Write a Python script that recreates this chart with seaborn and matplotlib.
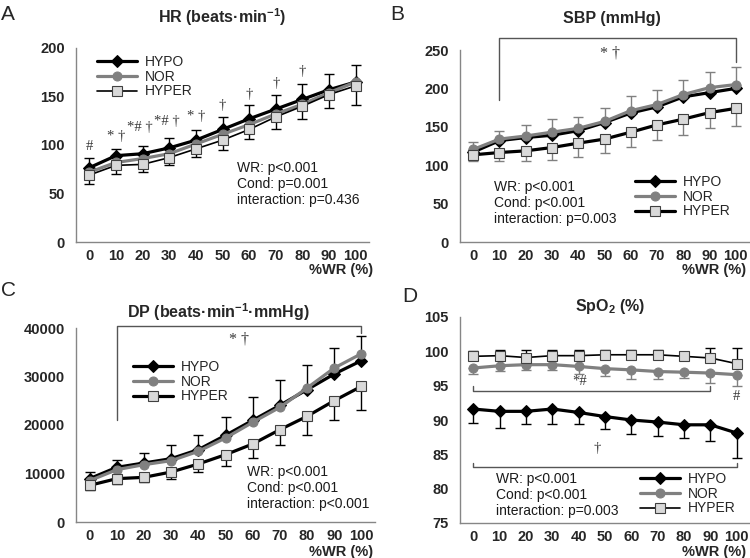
import matplotlib
matplotlib.use("Agg")
import matplotlib.pyplot as plt
import numpy as np
import seaborn as sns

# x categories (%WR)
wr_labels = ["0", "10", "20", "30", "40", "50", "60", "70", "80", "90", "100"]
series_names = ["HYPO", "NOR", "HYPER"]

# A: HR
hr_hypo = [76.6, 89, 91, 97, 105, 116, 127, 137, 147, 157, 165]
hr_nor = [72, 82, 86, 91, 101, 111, 121, 132, 142, 154, 165]
hr_hyper = [69, 79, 80, 87, 96, 105, 116, 129, 140, 152, 161]
hr_hypo_sd = [10, 7, 8, 10, 10, 13, 14, 15, 16, 16, 17]
hr_hyper_sd = [9, 9, 8, 8, 8, 10, 10, 13, 13, 14, 20]

# B: SBP
sbp_hypo = [117, 132, 136, 139, 145, 155.5, 168, 176, 189, 194.5, 200]
sbp_nor = [120.5, 134, 138, 143, 148, 157, 171, 179, 192, 201, 205]
sbp_hyper = [113.5, 116.5, 118.7, 123, 128.7, 134, 143, 152.5, 160, 168.5, 174]
sbp_nor_sd = [9.5, 11, 14.5, 17, 15, 18, 19.6, 19, 19, 20, 22.5]
sbp_hyper_sd = [8.5, 11.5, 13, 16, 17.5, 18, 19, 19.5, 20.5, 19.5, 23]

# C: DP
dp_hypo = [8935, 11270, 12165, 13060, 14914, 17870, 20963, 24056, 27286, 30516, 33265]
dp_nor = [8522, 10790, 11822, 12646, 14570, 17320, 20550, 23643, 27630, 31750, 34700]
dp_hyper = [7560, 8935, 9210, 10310, 11960, 13880, 16083, 19040, 21790, 25018, 27970]
dp_hypo_sd = [1300, 1580, 2065, 2750, 2960, 3780, 4740, 5150, 5150, 5360, 5155]
dp_hyper_sd = [890, 1035, 960, 1375, 1650, 2265, 2880, 3090, 3920, 3920, 4810]

# D: SpO2
spo2_hypo = [91.6, 91.26, 91.26, 91.6, 91.1, 90.5, 90.0, 89.7, 89.3, 89.3, 88.1]
spo2_nor = [97.57, 97.9, 98.06, 98.06, 97.8, 97.48, 97.3, 97.06, 96.96, 96.84, 96.6]
spo2_hyper = [99.27, 99.37, 99.1, 99.37, 99.37, 99.5, 99.5, 99.5, 99.27, 99.03, 98.2]
spo2_hypo_sd = [2.0, 2.4, 1.9, 2.2, 1.7, 1.8, 2.0, 2.0, 1.9, 2.3, 3.6]
spo2_nor_sd = [0.9, 0.7, 0.8, 0.8, 1.1, 1.1, 1.4, 1.1, 0.8, 1.4, 1.7]
spo2_hyper_sd = [0.8, 0.8, 1.1, 0.8, 0.8, 0.7, 0.7, 0.7, 0.7, 1.5, 2.3]

sns.set_style("white")
plt.rcParams["font.family"] = ["Liberation Sans", "DejaVu Sans"]
plt.rcParams["mathtext.fontset"] = "custom"
plt.rcParams["mathtext.rm"] = "Liberation Sans"
plt.rcParams["mathtext.bf"] = "Liberation Sans:bold"

W, H = 750, 558
fig = plt.figure(figsize=(7.5, 5.58), dpi=100)

AXIS_GRAY = "#868686"
SYM_COLOR = "#3a3a3a"
SERIF = ["Liberation Serif", "DejaVu Serif"]


def fpos(x, y):
    return x / W, 1 - y / H


def make_axes(left, right, top, bottom):
    ax = fig.add_axes([left / W, 1 - bottom / H, (right - left) / W, (bottom - top) / H])
    return ax


def style_axes(ax, ylim, ystep, xpad=5):
    ax.set_xlim(-0.5, 10.5)
    ax.set_ylim(*ylim)
    ax.set_yticks(np.arange(ylim[0], ylim[1] + ystep / 2, ystep))
    ax.set_xticks(range(len(wr_labels)))
    ax.set_xticklabels(wr_labels)
    ax.set_xticks(np.arange(0.5, 10.5, 1), minor=True)
    for s in ["top", "right"]:
        ax.spines[s].set_visible(False)
    for s in ["left", "bottom"]:
        ax.spines[s].set_color(AXIS_GRAY)
        ax.spines[s].set_linewidth(1)
    ax.tick_params(axis="x", which="major", length=0, pad=xpad, labelsize=10.5)
    ax.tick_params(axis="x", which="minor", direction="in", length=4, color=AXIS_GRAY, width=1)
    ax.tick_params(axis="y", which="major", direction="in", length=4, color=AXIS_GRAY,
                   width=1, pad=8, labelsize=10.5)
    for lab in ax.get_xticklabels() + ax.get_yticklabels():
        lab.set_fontweight("bold")
    ax.set_xlabel("")
    ax.set_ylabel("")


def draw_series(ax, hypo, nor, hyper, hyper_lw):
    x = np.arange(len(wr_labels))
    sns.lineplot(x=x, y=hypo, ax=ax, color="black", lw=2.3, marker="D", markersize=6,
                 markeredgecolor="black", label="HYPO", zorder=4)
    sns.lineplot(x=x, y=nor, ax=ax, color="#808080", lw=2.3, marker="o", markersize=6.5,
                 markeredgecolor="#808080", label="NOR", zorder=4)
    sns.lineplot(x=x, y=hyper, ax=ax, color="black", lw=hyper_lw, marker="s", markersize=6.5,
                 markerfacecolor="#d9d9d9", markeredgecolor="#404040", markeredgewidth=0.8,
                 label="HYPER", zorder=4)


def err(ax, vals, sd, up, color):
    x = np.arange(len(wr_labels))
    sd = np.array(sd)
    zero = np.zeros_like(sd)
    yerr = [zero, sd] if up else [sd, zero]
    ax.errorbar(x, vals, yerr=yerr, fmt="none", ecolor=color, elinewidth=1, capsize=3.5,
                capthick=1, zorder=2)


def legend(ax, x, y):
    h, l = ax.get_legend_handles_labels()
    ax.legend(h, l, loc="upper left", bbox_to_anchor=fpos(x, y), bbox_transform=fig.transFigure,
              frameon=False, handlelength=2.9, handletextpad=0.55, labelspacing=0.05,
              borderpad=0, borderaxespad=0, fontsize=10)


def stats(x, y, txt):
    fig.text(*fpos(x, y), txt, ha="left", va="top", fontsize=10, linespacing=1.2, color="#1a1a1a")


def sym(ax, x, y, txt, size=10.5):
    ax.text(x, y, txt, ha="center", va="center", fontsize=size, family=SERIF, color=SYM_COLOR)


def bracket(ax, xs, ys):
    ax.plot(xs, ys, color="#555555", lw=1, clip_on=False, zorder=1)


def corner_text(ax, x, y):
    fig.text(*fpos(x, y), "%WR (%)", ha="right", va="center", fontsize=10.5, fontweight="bold")


# ---- A: HR
axA = make_axes(76, 369, 48, 242)
err(axA, hr_hypo, hr_hypo_sd, True, "black")
err(axA, hr_hyper, hr_hyper_sd, False, "black")
draw_series(axA, hr_hypo, hr_nor, hr_hyper, 1.2)
style_axes(axA, (0, 200), 50)
legend(axA, 97, 55)
stats(237, 161, "WR: p<0.001\nCond: p=0.001\ninteraction: p=0.436")
for xi, yi, t in [(0, 98, "#"), (1, 108.5, "* †"), (1.9, 118, "*# †"), (2.9, 124, "*# †"),
                  (4, 129, "* †"), (5, 141, "†"), (6, 152, "†"), (7, 163, "†"), (8, 176, "†")]:
    sym(axA, xi, yi, t)

# ---- B: SBP
axB = make_axes(460, 749, 50, 242)
err(axB, sbp_nor, sbp_nor_sd, True, "#808080")
err(axB, sbp_hyper, sbp_hyper_sd, False, "#808080")
draw_series(axB, sbp_hypo, sbp_nor, sbp_hyper, 2.3)
style_axes(axB, (0, 250), 50)
legend(axB, 635, 175)
stats(494, 180, "WR: p<0.001\nCond: p<0.001\ninteraction: p=0.003")
bracket(axB, [1, 1, 10, 10], [185, 265, 265, 235])
sym(axB, 5.2, 245, "* †", 11.5)

# ---- C: DP
axC = make_axes(76, 375, 328, 522)
err(axC, dp_hypo, dp_hypo_sd, True, "black")
err(axC, dp_hyper, dp_hyper_sd, False, "black")
draw_series(axC, dp_hypo, dp_nor, dp_hyper, 2.3)
style_axes(axC, (0, 40000), 10000, xpad=5)
legend(axC, 133, 360)
stats(247, 465, "WR: p<0.001\nCond: p<0.001\ninteraction: p<0.001")
bracket(axC, [1, 1, 10, 10], [21100, 40345, 40345, 38970])
sym(axC, 5.5, 37600, "* †", 11.5)

# ---- D: SpO2
axD = make_axes(460, 750, 317, 523)
err(axD, spo2_hyper, spo2_hyper_sd, True, "black")
err(axD, spo2_nor, spo2_nor_sd, False, "#808080")
err(axD, spo2_hypo, spo2_hypo_sd, False, "black")
draw_series(axD, spo2_hypo, spo2_nor, spo2_hyper, 1.2)
style_axes(axD, (75, 105), 5, xpad=5)
legend(axD, 640, 472)
stats(496, 472, "WR: p<0.001\nCond: p<0.001\ninteraction: p=0.003")
bracket(axD, [0, 0, 9, 9], [94.9, 94.2, 94.2, 94.9])
sym(axD, 4.05, 95.6, "*#")
sym(axD, 10, 93.4, "#")
bracket(axD, [0, 0, 10, 10], [83.8, 83.1, 83.1, 83.8])
sym(axD, 4.7, 85.8, "†")

# titles, panel letters, x-axis captions
title_kw = dict(ha="center", va="center", fontsize=11.5, fontweight="bold")
fig.text(*fpos(222, 17), r"HR (beats·min$^{\mathbf{-1}}$)", **title_kw)
fig.text(*fpos(612, 19), "SBP (mmHg)", **title_kw)
fig.text(*fpos(218, 312), r"DP (beats·min$^{\mathbf{-1}}$·mmHg)", **title_kw)
fig.text(*fpos(610, 306), r"SpO$_{\mathbf{2}}$ (%)", **title_kw)

for letter, x, y in [("A", 1, 14), ("B", 390, 14), ("C", 1, 290), ("D", 402, 296)]:
    fig.text(*fpos(x, y), letter, ha="left", va="center", fontsize=15)

corner_text(axA, 373, 270)
corner_text(axB, 746, 270)
corner_text(axC, 373, 552)
corner_text(axD, 746, 552)

fig.savefig("out.png", dpi=100)
